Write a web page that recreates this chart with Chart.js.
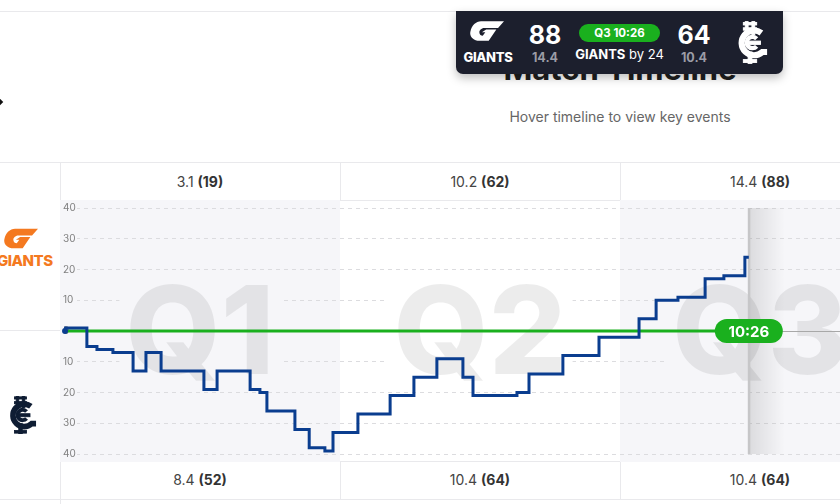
<!DOCTYPE html>
<html>
<head>
<meta charset="utf-8">
<script src="https://cdn.jsdelivr.net/npm/chart.js@4.4.0/dist/chart.umd.min.js"></script>
<style>
  body { margin: 0; width: 840px; height: 504px; overflow: hidden; position: relative; background: #fff; font-family: Inter, "Noto Sans", sans-serif; color: #333; }
  .abs { position: absolute; }
  .hline { position: absolute; height: 1px; background: #e9e9ec; }
  .vline { position: absolute; width: 1px; background: #e9e9ec; }
  .cell { position: absolute; width: 280px; text-align: center; font-size: 14px; color: #444; }
  .cell b { color: #333; font-weight: 700; }
  #card { left: 456px; top: 11px; width: 327px; height: 63px; background: #1c1f2d; border-radius: 0 0 7px 7px; box-shadow: 0 4px 10px rgba(0,0,0,0.25); color: #fff; }
  .big { position: absolute; width: 60px; text-align: center; font-size: 25px; font-weight: 700; line-height: 25px; }
  .small { position: absolute; width: 60px; text-align: center; font-size: 12.5px; font-weight: 700; color: #9b9ca6; }
</style>
</head>
<body>

<svg width="0" height="0" style="position:absolute">
  <defs>
    <symbol id="gws" viewBox="0 0 40 24">
      <path d="M13 0H40L33 8H17C13 8 11 11 11 13C11 16 13 17 15 17L18 13H14L19 9.5H31L22 23H11C4 23 -1 18 0.5 12C2 5 7 0 13 0Z"/>
    </symbol>
    <symbol id="cfc" viewBox="0 0 40 44">
      <path fill="none" stroke-width="6.5" d="M32 12A13 13 0 1 0 33 32H38"/>
      <path fill="none" stroke-width="4.5" d="M27 18A6 6 0 1 0 27 26"/>
      <rect x="15" y="0" width="3" height="14"/>
      <rect x="22" y="0" width="3" height="14"/>
      <rect x="13" y="1" width="14" height="2.5"/>
      <rect x="13" y="6.5" width="14" height="2.5"/>
      <rect x="17" y="20.5" width="14" height="3.5"/>
      <rect x="18" y="32" width="4" height="12"/>
      <rect x="13" y="40" width="14" height="3"/>
    </symbol>
  </defs>
</svg>

<div class="hline" style="left:0;top:11px;width:840px"></div>
<div class="abs" style="left:420px;top:50px;width:400px;text-align:center;font-size:31px;font-weight:700;color:#1e1e1e">Match Timeline</div>
<div class="abs" style="left:420px;top:108px;width:400px;text-align:center;font-size:14px;color:#666">Hover timeline to view key events</div>
<div class="abs" style="left:-4px;top:99px;width:6px;height:6px;background:#111;transform:rotate(45deg)"></div>

<div id="card" class="abs">
  <svg class="abs" style="left:14px;top:10px;fill:#fff" width="34" height="21"><use href="#gws"/></svg>
  <div class="abs" style="left:6px;top:38px;width:52px;text-align:center;font-size:13px;font-weight:800;letter-spacing:-0.3px">GIANTS</div>
  <div class="big" id="gTotal" style="left:59px;top:12px"></div>
  <div class="small" id="gSc" style="left:59px;top:39px"></div>
  <div class="abs" id="clock" style="left:123px;top:13px;width:81px;height:18px;border-radius:9px;background:#1ab01e;text-align:center;font-size:11.5px;font-weight:700;line-height:18px"></div>
  <div class="abs" id="lead" style="left:113px;top:35px;width:101px;text-align:center;font-size:13px"></div>
  <div class="big" id="bTotal" style="left:208px;top:12px"></div>
  <div class="small" id="bSc" style="left:208px;top:39px"></div>
  <svg class="abs" style="left:275px;top:10px;fill:#fff;stroke:#fff" width="38" height="43"><use href="#cfc"/></svg>
</div>

<div class="hline" style="left:0;top:162px;width:840px"></div>
<div class="hline" style="left:60px;top:200px;width:780px"></div>
<div class="hline" style="left:60px;top:461px;width:780px"></div>
<div class="hline" style="left:0;top:499px;width:840px"></div>
<div class="hline" style="left:0;top:330px;width:60px"></div>
<div class="vline" style="left:60px;top:162px;height:342px"></div>
<div class="vline" style="left:340px;top:162px;height:38px"></div>
<div class="vline" style="left:620px;top:162px;height:38px"></div>
<div class="vline" style="left:340px;top:461px;height:38px"></div>
<div class="vline" style="left:620px;top:461px;height:38px"></div>
<div id="head"></div>
<div id="foot"></div>

<svg class="abs" style="left:4px;top:228px;fill:#f47920" width="34" height="22"><use href="#gws"/></svg>
<div class="abs" style="left:-3px;top:251px;font-size:15px;font-weight:800;color:#f47920;letter-spacing:-0.5px">GIANTS</div>
<svg class="abs" style="left:3px;top:396px;fill:#0f1d33;stroke:#0f1d33" width="35" height="38"><use href="#cfc"/></svg>

<div class="abs" style="left:60px;top:200px;width:840px;height:262px">
  <canvas id="timeline" width="840" height="262"></canvas>
</div>

<script>
// quarters, x in quarter-percent (Q1 = 0-100, Q2 = 100-200, Q3 = 200-300)
const quarters = ["Q1", "Q2", "Q3"];
const quarterShaded = [true, false, true];
const giantsQtr = ["3.1", "10.2", "14.4"];
const giantsQtrPts = [19, 62, 88];
const bluesQtr = ["8.4", "10.4", "10.4"];
const bluesQtrPts = [52, 64, 64];

// margin (GWS minus Carlton) after each score
const marginTime = [1.8, 2, 9.6, 13.2, 18.9, 26.1, 30.7, 36.1, 51.4, 56.1, 67.9, 71.4, 73.9, 83.9,
  89, 94.6, 97.5, 106.4, 117.9, 126.4, 134.6, 143.9, 147.5, 163.2, 167.5, 179.6,
  192.5, 206.8, 212.9, 220.7, 230.4, 237.1, 244.6, 246];
const marginValue = [0, 1, -5, -6, -7, -13, -7, -13, -19, -13, -19, -20, -26, -32,
  -38, -39, -33, -27, -21, -15, -9, -15, -21, -20, -14, -8,
  -2, 4, 10, 11, 17, 18, 24, 24];
const yTicks = [40, 30, 20, 10, 0, -10, -20, -30, -40];

const nowTime = 246;
const clockLabel = "10:26";
const giantsTotal = 88, giantsScore = "14.4";
const bluesTotal = 64, bluesScore = "10.4";

/* ============================
   HEADER / FOOTER / CARD TEXT
============================ */
const head = document.getElementById("head");
const foot = document.getElementById("foot");
quarters.forEach((q, i) => {
  head.innerHTML += `<div class="cell" style="left:${60 + i * 280}px;top:173px">${giantsQtr[i]} <b>(${giantsQtrPts[i]})</b></div>`;
  foot.innerHTML += `<div class="cell" style="left:${60 + i * 280}px;top:471px">${bluesQtr[i]} <b>(${bluesQtrPts[i]})</b></div>`;
});
document.getElementById("gTotal").textContent = giantsTotal;
document.getElementById("gSc").textContent = giantsScore;
document.getElementById("bTotal").textContent = bluesTotal;
document.getElementById("bSc").textContent = bluesScore;
document.getElementById("clock").textContent = quarters[2] + " " + clockLabel;
document.getElementById("lead").innerHTML = `<b>GIANTS</b> by ${giantsTotal - bluesTotal}`;

/* ============================
   TIMELINE PLUGIN
============================ */
const timelinePlugin = {
  id: "timeline",
  beforeDraw(chart) {
    const { ctx, scales: { x } } = chart;
    ctx.save();
    quarters.forEach((q, i) => {
      if (!quarterShaded[i]) return;
      const l = x.getPixelForValue(i * 100);
      const r = x.getPixelForValue((i + 1) * 100);
      ctx.fillStyle = "#f6f6f9";
      ctx.fillRect(l, 0, r - l, chart.height);
    });
    ctx.restore();
  },
  beforeDatasetsDraw(chart) {
    const { ctx, chartArea, scales: { x, y } } = chart;
    const y0 = y.getPixelForValue(0);
    ctx.save();
    ctx.font = "800 122px Inter";
    ctx.textAlign = "center";
    ctx.textBaseline = "alphabetic";
    quarters.forEach((q, i) => {
      const cx = x.getPixelForValue(i * 100 + 50);
      const w = ctx.measureText(q).width;
      ctx.fillStyle = quarterShaded[i] ? "#f6f6f9" : "#fff";
      ctx.fillRect(cx - w / 2 - 6, y0 - 42, w + 12, 86);
      ctx.fillStyle = "rgba(0,0,0,0.075)";
      ctx.fillText(q, cx, y0 + 43);
    });
    // y tick labels sit on a patch that hides the start of the grid line
    ctx.font = "10px Inter";
    ctx.textAlign = "left";
    ctx.textBaseline = "middle";
    y.ticks.forEach((t) => {
      const py = y.getPixelForValue(t.value);
      ctx.fillStyle = "#f6f6f9";
      ctx.fillRect(chartArea.left, py - 3, 17, 6);
      ctx.fillStyle = "#808080";
      ctx.fillText(Math.abs(t.value), chartArea.left + 3, py);
    });
    // now marker
    const nx = x.getPixelForValue(nowTime);
    const g = ctx.createLinearGradient(nx, 0, nx + 36, 0);
    g.addColorStop(0, "rgba(0,0,0,0.11)");
    g.addColorStop(1, "rgba(0,0,0,0)");
    ctx.fillStyle = g;
    ctx.fillRect(nx, chartArea.top, 36, chartArea.bottom - chartArea.top);
    ctx.fillStyle = "#c6c6c8";
    ctx.fillRect(nx - 1, chartArea.top, 2.5, chartArea.bottom - chartArea.top);
    ctx.restore();
  },
  afterDatasetsDraw(chart) {
    const { ctx, chartArea, scales: { x, y } } = chart;
    const nx = x.getPixelForValue(nowTime);
    const y0 = y.getPixelForValue(0);
    ctx.save();
    ctx.strokeStyle = "#a8a8a8";
    ctx.lineWidth = 1;
    ctx.beginPath();
    ctx.moveTo(nx, y0 + 0.5);
    ctx.lineTo(chartArea.right, y0 + 0.5);
    ctx.stroke();
    ctx.fillStyle = "#1ab01e";
    ctx.beginPath();
    ctx.roundRect(nx - 34, y0 - 12, 68, 24, 12);
    ctx.fill();
    ctx.fillStyle = "#fff";
    ctx.font = "700 15px Inter";
    ctx.textAlign = "center";
    ctx.textBaseline = "middle";
    ctx.fillText(clockLabel, nx, y0 + 1);
    ctx.restore();
  },
};

/* ============================
   CHART
============================ */
new Chart(document.getElementById("timeline").getContext("2d"), {
  type: "line",
  data: {
    datasets: [
      {
        data: marginTime.map((t, i) => ({ x: t, y: marginValue[i] })),
        borderColor: "#0a3d8f",
        backgroundColor: "#0a3d8f",
        borderWidth: 3,
        stepped: true,
        pointRadius: (c) => (c.dataIndex === 0 ? 1.5 : 0),
      },
      {
        data: [{ x: marginTime[0], y: 0 }, { x: nowTime, y: 0 }],
        borderColor: "#1ab01e",
        borderWidth: 3,
        pointRadius: 0,
      },
    ],
  },
  options: {
    responsive: false,
    animation: false,
    layout: { autoPadding: false, padding: { top: 8, bottom: 8, left: 0, right: 0 } },
    plugins: { legend: { display: false }, tooltip: { enabled: false } },
    scales: {
      x: { type: "linear", min: 0, max: 300, display: false },
      y: {
        min: -40,
        max: 40,
        afterBuildTicks: (s) => { s.ticks = yTicks.map((v) => ({ value: v })); },
        afterFit: (s) => { s.width = 0; },
        ticks: { display: false },
        grid: { color: "#dcdcdf", drawTicks: false },
        border: { display: false, dash: [4, 4] },
      },
    },
  },
  plugins: [timelinePlugin],
});
</script>
</body>
</html>
